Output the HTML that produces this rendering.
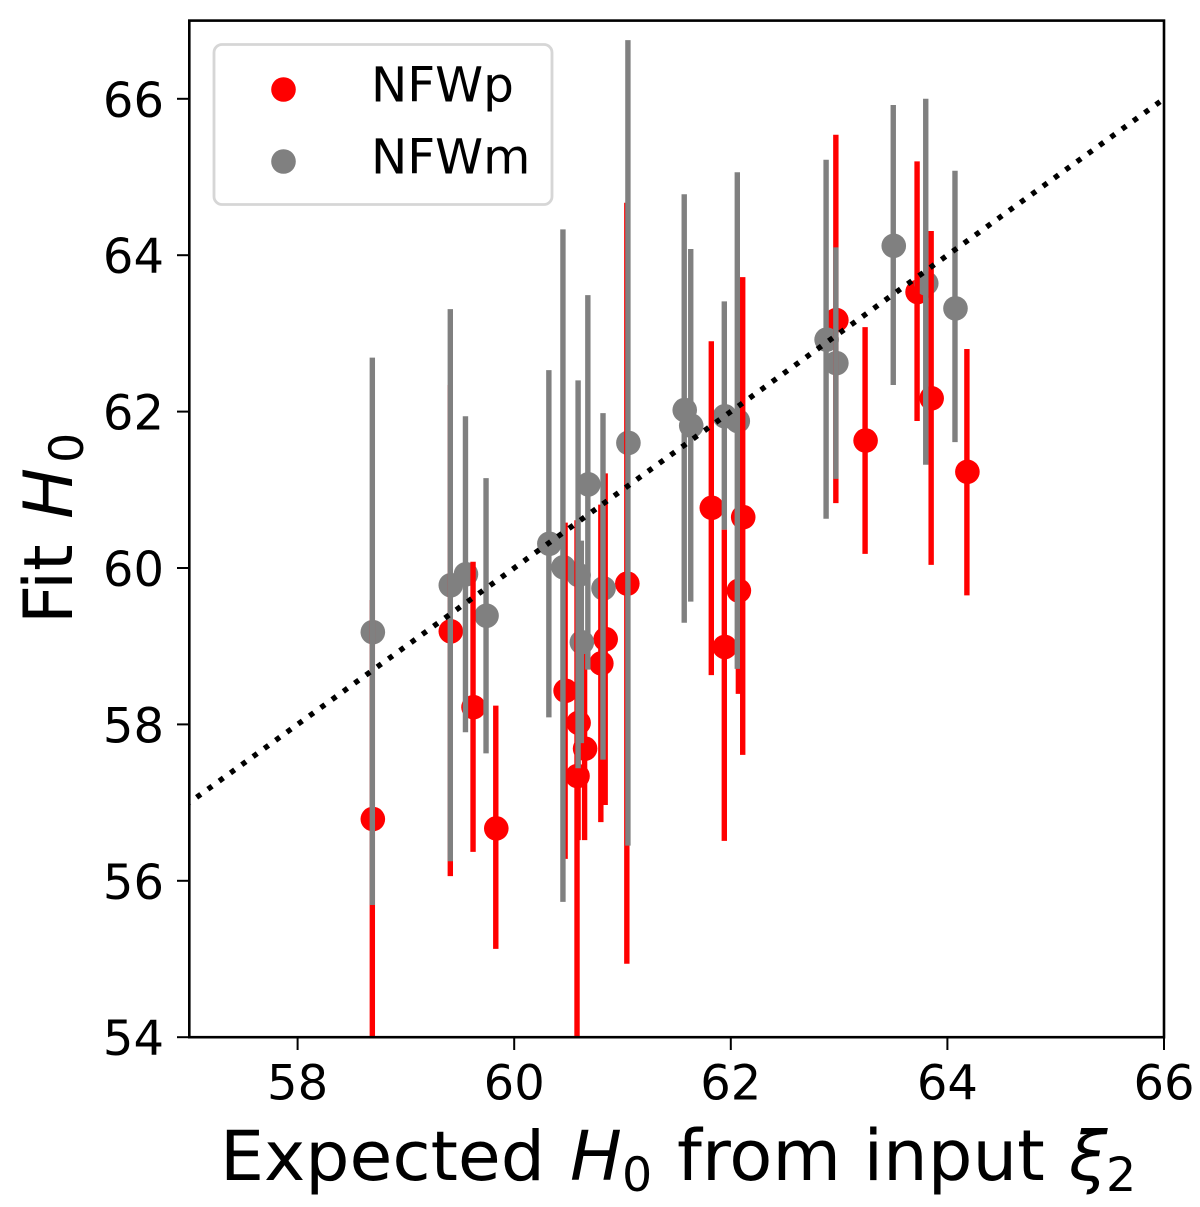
<!DOCTYPE html>
<html>
<head>
<meta charset="utf-8">
<title>Fit H0 vs Expected H0</title>
<style>
html,body{margin:0;padding:0;background:#fff;}
#chart{display:block;width:1200px;height:1207px;font-family:"DejaVu Sans","Liberation Sans",sans-serif;fill:#000;}
.it{font-style:italic;}
</style>
</head>
<body>
<svg id="chart" xmlns="http://www.w3.org/2000/svg" width="1200" height="1207" viewBox="0 0 1200 1207">
<defs><clipPath id="plot-clip"><rect x="189.3" y="20.6" width="974.7" height="1016.6"></rect></clipPath></defs>
<rect x="0" y="0" width="1200" height="1207" fill="#fff"></rect>
<g id="marks" clip-path="url(#plot-clip)"></g>
<rect x="189.3" y="20.6" width="974.7" height="1016.6" fill="none" stroke="#000" stroke-width="2.6"></rect>
<g id="ticks"></g>
<g font-size="69">
<text x="220" y="1180" textLength="325" lengthAdjust="spacingAndGlyphs">Expected</text>
<text x="570" y="1180" class="it">H</text>
<text x="622" y="1191" font-size="47.5">0</text>
<text x="677" y="1180" font-size="70.5">from input</text>
<text x="1069" y="1180" class="it">ξ</text>
<text x="1106" y="1191" font-size="47.5">2</text>
</g>
<g font-size="68">
<text transform="translate(72,624) rotate(-90)">Fit</text>
<text transform="translate(72,519) rotate(-90)" class="it">H</text>
<text transform="translate(83,463) rotate(-90)" font-size="47.5">0</text>
</g>
<g>
<rect x="214" y="44.5" width="338" height="160" rx="8" ry="8" fill="#fff" fill-opacity="0.8" stroke="#d6d6d6" stroke-width="2.8"></rect>
<circle cx="283.5" cy="89.5" r="12.3" fill="#ff0000"></circle>
<circle cx="283.5" cy="161.5" r="12.3" fill="#808080"></circle>
<text x="371" y="101.5" font-size="48.5">NFWp</text>
<text x="371" y="173.5" font-size="48.5">NFWm</text>
</g>
</svg>
<script>
const xTickValues = [58, 60, 62, 64, 66];
const yTickValues = [54, 56, 58, 60, 62, 64, 66];
const refLineX = [57, 66];
const refLineY = [57, 66];

const nfwpX  = [58.69, 59.41, 59.62, 59.83, 60.47, 60.59, 60.65, 60.58, 60.80, 60.84, 61.04, 61.82, 61.94, 62.11, 62.07, 62.97, 63.24, 63.72, 63.85, 64.18];
const nfwpY  = [56.79, 59.19, 58.22, 56.67, 58.43, 58.02, 57.69, 57.34, 58.78, 59.09, 59.80, 60.77, 58.99, 60.65, 59.71, 63.17, 61.63, 63.53, 62.17, 61.23];
const nfwpHi = [59.59, 62.34, 60.08, 58.24, 60.58, 59.59, 58.90, 60.61, 60.81, 61.21, 64.67, 62.90, 60.49, 63.72, 61.00, 65.54, 63.08, 65.20, 64.31, 62.80];
const nfwpLo = [53.90, 56.06, 56.37, 55.13, 56.28, 56.52, 56.52, 53.90, 56.75, 56.97, 54.94, 58.63, 56.51, 57.61, 58.39, 60.83, 60.18, 61.88, 60.04, 59.65];

const nfwmX  = [58.69, 59.41, 59.55, 59.74, 60.32, 60.45, 60.59, 60.62, 60.68, 60.82, 61.05, 61.57, 61.63, 61.94, 62.06, 62.88, 62.97, 63.50, 63.80, 64.07];
const nfwmY  = [59.18, 59.78, 59.92, 59.39, 60.31, 60.01, 59.91, 59.05, 61.07, 59.74, 61.60, 62.02, 61.82, 61.94, 61.88, 62.92, 62.62, 64.12, 63.64, 63.32];
const nfwmHi = [62.69, 63.31, 61.94, 61.15, 62.53, 64.33, 62.40, 60.35, 63.49, 61.98, 66.75, 64.78, 64.08, 63.41, 65.06, 65.22, 64.10, 65.92, 66.00, 65.08];
const nfwmLo = [55.69, 56.25, 57.90, 57.63, 58.09, 55.73, 57.44, 57.76, 58.70, 57.55, 56.45, 59.30, 59.57, 60.49, 58.71, 60.63, 61.14, 62.34, 61.32, 61.61];

const NS = 'http://www.w3.org/2000/svg';
const RED = '#ff0000';
const GREY = '#808080';
function xScale(v) { return 297.6 + 108.3 * (v - 58); }
function yScale(v) { return 568 + 78.2 * (60 - v); }
function make(tag, parent, attrs) {
  const el = document.createElementNS(NS, tag);
  for (const k in attrs) el.setAttribute(k, attrs[k]);
  parent.appendChild(el);
  return el;
}
const marks = document.getElementById('marks');
const ticks = document.getElementById('ticks');

function drawDots(xs, ys, color, label) {
  xs.forEach(function (x, i) {
    const dot = make('circle', marks, { cx: xScale(x) + 0.5, cy: yScale(ys[i]), r: 12.3, fill: color });
    
    
  });
}
function drawBars(xs, lo, hi, color, label) {
  xs.forEach(function (x, i) {
    const bar = make('line', marks, { x1: xScale(x), x2: xScale(x), y1: yScale(lo[i]), y2: yScale(hi[i]), stroke: color, 'stroke-width': 5.4 });
    
    
  });
}
drawDots(nfwpX, nfwpY, RED, 'nfwp');
drawDots(nfwmX, nfwmY, GREY, 'nfwm');
drawBars(nfwpX, nfwpLo, nfwpHi, RED, 'nfwp');
drawBars(nfwmX, nfwmLo, nfwmHi, GREY, 'nfwm');

const refLine = make('line', marks, {
  x1: xScale(refLineX[0]), y1: yScale(refLineY[0]), x2: xScale(refLineX[1]), y2: yScale(refLineY[1]),
  stroke: '#000', 'stroke-width': 5.4, 'stroke-dasharray': '5.2 8.72', 'stroke-dashoffset': 4.92
});



xTickValues.forEach(function (v) {
  const px = xScale(v);
  const mark = make('line', ticks, { x1: px, x2: px, y1: 1037.2, y2: 1050, stroke: '#000', 'stroke-width': 2 });
  
  
  const label = make('text', ticks, { x: px, y: 1099.5, 'text-anchor': 'middle', 'font-size': 48 });
  
  
  label.textContent = v;
});
yTickValues.forEach(function (v) {
  const py = yScale(v);
  const mark = make('line', ticks, { x1: 177, x2: 189.3, y1: py, y2: py, stroke: '#000', 'stroke-width': 2 });
  
  
  const label = make('text', ticks, { x: 164, y: py + 18, 'text-anchor': 'end', 'font-size': 48 });
  
  
  label.textContent = v;
});
</script>
</body>
</html>
